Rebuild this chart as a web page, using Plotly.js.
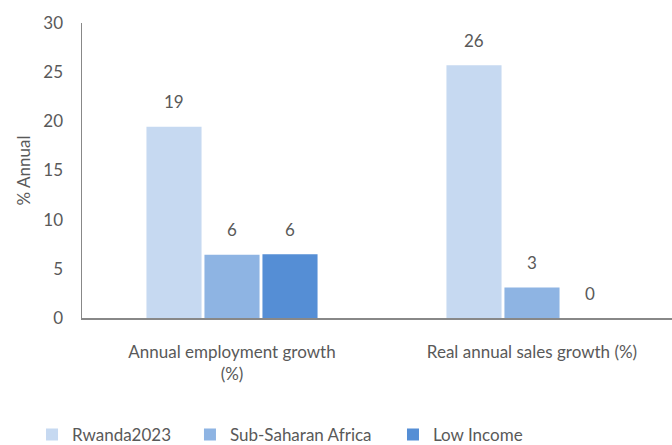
<!DOCTYPE html>
<html>
<head>
<meta charset="utf-8">
<script src="https://cdn.plot.ly/plotly-3.0.1.min.js"></script>
<style>html,body{margin:0;padding:0;background:#fff;}#chart{width:672px;height:445px;}</style>
</head>
<body>
<div id="chart"></div>
<script>
const categories = ["Annual employment growth<br>(%)", "Real annual sales growth (%)"];
const seriesNames = ["Rwanda2023", "Sub-Saharan Africa", "Low Income"];
const rwanda2023 = [19.45, 25.7];
const subSaharanAfrica = [6.42, 3.1];
const lowIncome = [6.48, 0];
const yTicks = [0, 5, 10, 15, 20, 25, 30];

const colors = ["#C6D9F1", "#8EB4E3", "#558ED5"];
const legendX = [-0.0847, 0.183, 0.5271];
const allSeries = [rwanda2023, subSaharanAfrica, lowIncome];
const FONT = "Lato, 'Open Sans', sans-serif";
const TXT = "#595959";
const bargap = 0.42;
const legendIds = ["legend", "legend2", "legend3"];

const traces = allSeries.map((vals, i) => ({
  type: "bar",
  name: seriesNames[i],
  x: categories,
  y: vals,
  marker: {color: colors[i]},
  legend: legendIds[i],
  hoverinfo: "skip"
}));

// data labels above each bar, placed in data coordinates
const slot = (1 - bargap) / allSeries.length;
const annotations = [];
allSeries.forEach((vals, i) => {
  vals.forEach((v, j) => {
    annotations.push({
      x: j + (i - (allSeries.length - 1) / 2) * slot,
      y: v,
      xref: "x", yref: "y",
      text: String(Math.round(v)),
      showarrow: false,
      yshift: 25,
      font: {family: FONT, size: 17, color: TXT}
    });
  });
});

const layout = {
  width: 672, height: 445,
  margin: {l: 82, r: 0, t: 23, b: 127, autoexpand: false},
  paper_bgcolor: "#fff", plot_bgcolor: "#fff",
  font: {family: FONT, size: 17, color: TXT},
  barmode: "group",
  bargap: bargap,
  bargroupgap: 0.05,
  showlegend: true,
  xaxis: {
    type: "category",
    range: [-0.5, 1.4667],
    showline: true, linecolor: "#888", linewidth: 1.5,
    ticks: "", showgrid: false, zeroline: false,
    ticklabelstandoff: 18,
    tickfont: {family: FONT, size: 17, color: TXT}
  },
  yaxis: {
    range: [0, 30],
    tickvals: yTicks,
    showline: true, linecolor: "#888", linewidth: 1.5,
    ticks: "", showgrid: false, zeroline: false,
    ticklabelstandoff: 14,
    tickfont: {family: FONT, size: 17, color: TXT},
    title: {text: "% Annual", font: {family: FONT, size: 17, color: TXT}, standoff: 8}
  },
  annotations: annotations
};
legendIds.forEach((id, i) => {
  layout[id] = {
    orientation: "h", x: legendX[i], xanchor: "left", y: -0.335, yanchor: "top",
    font: {family: FONT, size: 17, color: TXT},
    itemwidth: 30, bgcolor: "rgba(0,0,0,0)"
  };
});

Plotly.newPlot("chart", traces, layout, {displayModeBar: false, staticPlot: true});
</script>
</body>
</html>
